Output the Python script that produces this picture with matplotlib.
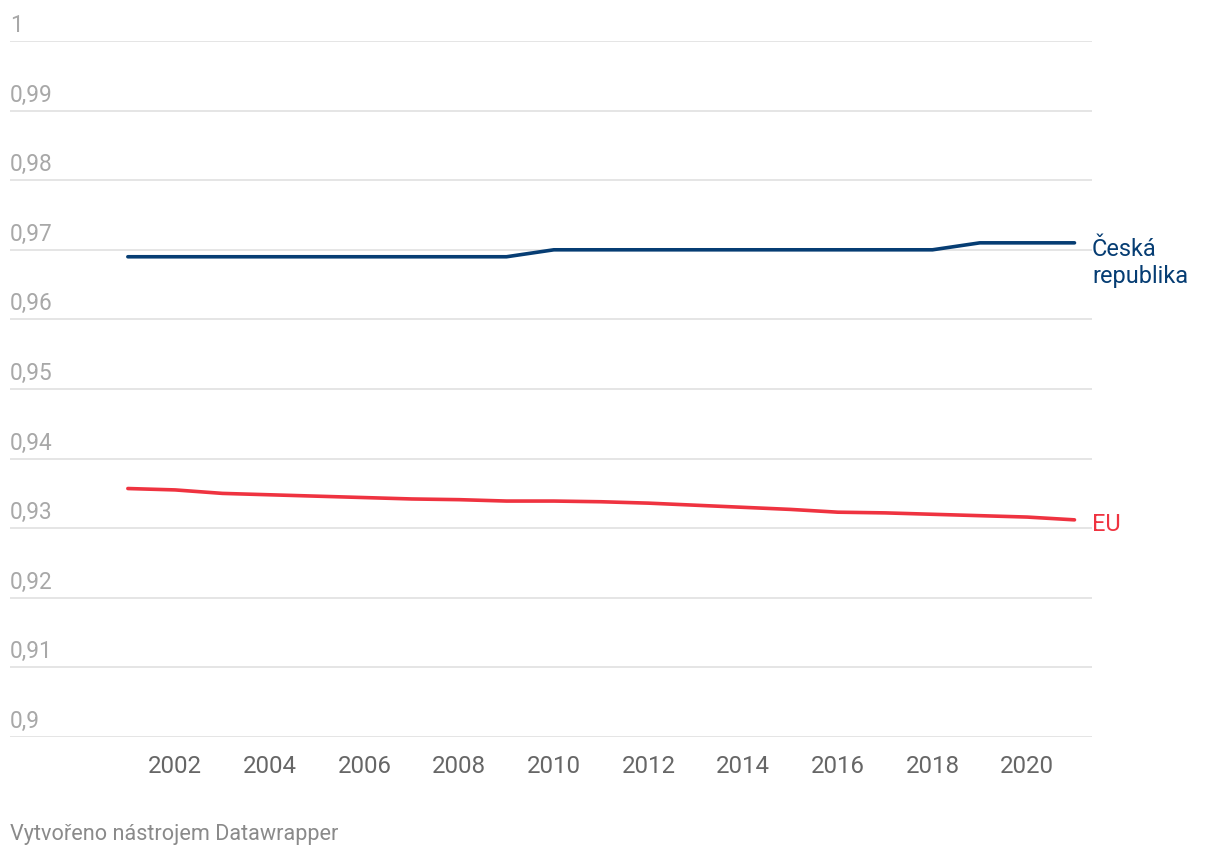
import matplotlib
matplotlib.use("Agg")
import matplotlib.pyplot as plt

years = list(range(2001, 2022))
cz = [0.969]*9 + [0.970]*9 + [0.971]*3
eu = [0.9357, 0.9355, 0.9350, 0.9348, 0.9346, 0.9344, 0.9342, 0.9341, 0.9339, 0.9339,
      0.9338, 0.9336, 0.9333, 0.9330, 0.9327, 0.9323, 0.9322, 0.9320, 0.9318, 0.9316, 0.9312]
yticks = [0.9, 0.91, 0.92, 0.93, 0.94, 0.95, 0.96, 0.97, 0.98, 0.99, 1.0]
ytick_labels = ["0,9", "0,91", "0,92", "0,93", "0,94", "0,95", "0,96", "0,97", "0,98", "0,99", "1"]
xticks = list(range(2002, 2021, 2))
cz_label = ["Česká", "republika"]
eu_label = "EU"

CZ_COLOR = "#063d73"
EU_COLOR = "#ef3340"

plt.rcParams['font.family'] = ['Roboto', 'DejaVu Sans']

W, H = 1220, 854
fig = plt.figure(figsize=(W/100, H/100), dpi=100)
left, right, top, bottom = 10, 1092, 42, 738
ax = fig.add_axes([left/W, 1-bottom/H, (right-left)/W, (bottom-top)/H])
ax.set_xlim(1998.51, 2021.37)
ax.set_ylim(0.9, 1.0)
for s in ax.spines.values():
    s.set_visible(False)
ax.set_xticks([]); ax.set_yticks([])

def px(x, y):
    return x/W, 1-y/H

for v, lab in zip(yticks, ytick_labels):
    ax.axhline(v, color="#e3e3e3", lw=1.3, zorder=0)
    ax.annotate(lab, xy=(0, v), xycoords=("axes fraction", "data"),
                xytext=(0, 10), textcoords="offset pixels",
                ha="left", va="baseline", fontsize=16.3, color="#a8a8a8")

for x in xticks:
    ax.annotate(str(x), xy=(x, 0), xycoords=("data", "axes fraction"),
                xytext=(0, -35), textcoords="offset pixels",
                ha="center", va="baseline", fontsize=17.3, color="#666666")

ax.plot(years, cz, color=CZ_COLOR, lw=2.6, solid_capstyle="round", solid_joinstyle="round")
ax.plot(years, eu, color=EU_COLOR, lw=2.6, solid_capstyle="round", solid_joinstyle="round")

fig.text(*px(1092, 256), cz_label[0], ha="left", va="baseline", fontsize=16.9, color=CZ_COLOR)
fig.text(*px(1092, 283), cz_label[1], ha="left", va="baseline", fontsize=16.9, color=CZ_COLOR)
fig.text(*px(1092, 531.5), eu_label, ha="left", va="baseline", fontsize=16.9, color=EU_COLOR)

fig.text(*px(10, 840), "Vytvořeno nástrojem Datawrapper", ha="left", va="baseline",
         fontsize=15.6, color="#8a8a8a")

fig.savefig("out.png", dpi=100, facecolor="white")
